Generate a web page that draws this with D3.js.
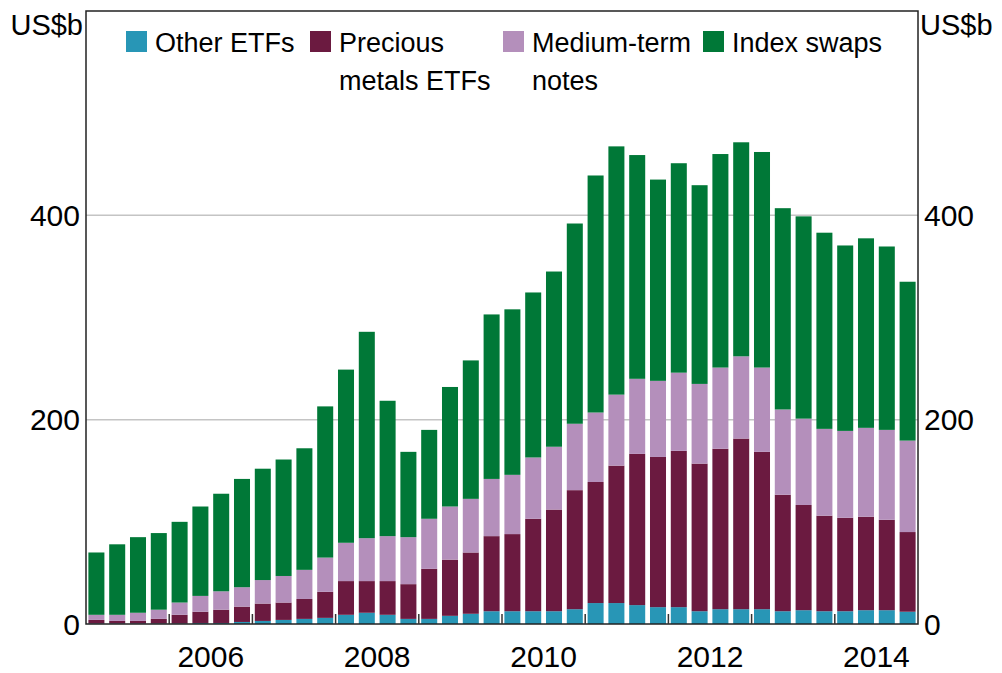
<!DOCTYPE html>
<html>
<head>
<meta charset="utf-8">
<script src="https://cdn.jsdelivr.net/npm/d3@7"></script>
<style>
  html, body { margin: 0; padding: 0; background: #fff; }
  svg { display: block; font-family: "Liberation Sans", Arial, sans-serif; }
</style>
</head>
<body>
<script>
// quarterly categories, 2005 Q1 to 2014 Q4
const years = [2005, 2006, 2007, 2008, 2009, 2010, 2011, 2012, 2013, 2014];
const quarters = years.flatMap(y => ['Q1', 'Q2', 'Q3', 'Q4'].map(q => `${y}-${q}`));

// US$b
const otherEtfs = [0.5, 0.5, 0.5, 0.5, 0.5, 1, 1, 2, 3, 4,
  5, 6, 9, 11, 9, 5, 5, 8, 10, 12.5,
  12.5, 12.5, 12.5, 14.5, 20.5, 20.5, 18.5, 16.5, 16.5, 12.5,
  14.5, 14.5, 14.5, 12.5, 13.5, 12.5, 12.5, 13.5, 13.5, 12];
const preciousEtfs = [3.5, 2.5, 2.5, 4.5, 8.5, 11, 13, 15, 17, 17,
  19.5, 25.5, 33, 31, 33, 34, 49, 55, 60, 73.5,
  75.5, 90.5, 99.5, 116.5, 118.5, 134.5, 148, 147, 153, 144.5,
  157, 167, 154, 114, 103, 93.5, 91.5, 91.5, 88.5, 78];
const mediumNotes = [5, 6, 8, 9, 12, 15.5, 18, 19, 23, 26,
  28.5, 33.5, 37.5, 42, 44, 46, 49, 52, 52.5, 56,
  58, 60, 61.5, 65, 68, 69.5, 73.5, 74.5, 76.5, 78,
  79.5, 80.5, 82.5, 83.5, 84.5, 85, 85, 87, 88, 89.5];
const indexSwaps = [61, 69, 74, 75, 79, 87.5, 95.5, 106, 109, 114,
  119, 148, 169.5, 202, 132.5, 83.5, 87, 117, 135.5, 161,
  162, 161.5, 171.5, 196, 232, 243, 219, 197, 205, 194.5,
  209, 209.5, 211, 197, 198, 192, 181.5, 185.5, 179.5, 155.5];

const seriesKeys = ['other', 'precious', 'medium', 'swaps'];
const seriesLabels = [['Other ETFs'], ['Precious', 'metals ETFs'], ['Medium-term', 'notes'], ['Index swaps']];
const seriesColors = ['#2896b6', '#6b1a40', '#b48fbb', '#007837'];

const yTicks = [0, 200, 400];
const yearTicks = [2006, 2007, 2008, 2009, 2010, 2011, 2012, 2013, 2014];
const yearLabels = [2006, 2008, 2010, 2012, 2014];

const width = 1002, height = 673;
const plot = { left: 86, right: 918, top: 11, bottom: 624 };

const rows = quarters.map((q, i) => ({
  q,
  other: otherEtfs[i],
  precious: preciousEtfs[i],
  medium: mediumNotes[i],
  swaps: indexSwaps[i]
}));

const stacked = d3.stack().keys(seriesKeys)(rows);

const x = d3.scaleBand()
  .domain(quarters)
  .range([plot.left, plot.right])
  .paddingInner(0.23)
  .paddingOuter(0.115);

const y = d3.scaleLinear()
  .domain([0, 600])
  .range([plot.bottom, plot.top]);

const svg = d3.select('body')
  .append('svg')
  .attr('width', width)
  .attr('height', height);

svg.append('rect')
  .attr('width', width)
  .attr('height', height)
  .attr('fill', '#fff');

// gridlines
svg.append('g')
  .selectAll('line')
  .data(yTicks.filter(d => d > 0))
  .enter()
  .append('line')
  .attr('x1', plot.left)
  .attr('x2', plot.right)
  .attr('y1', d => y(d))
  .attr('y2', d => y(d))
  .attr('stroke', '#c4c4c4')
  .attr('stroke-width', 1.5);

// bars
svg.append('g')
  .selectAll('g')
  .data(stacked)
  .enter()
  .append('g')
  .attr('fill', (d, i) => seriesColors[i])
  .selectAll('rect')
  .data(d => d)
  .enter()
  .append('rect')
  .attr('x', d => x(d.data.q))
  .attr('width', x.bandwidth())
  .attr('y', d => y(d[1]))
  .attr('height', d => y(d[0]) - y(d[1]));

// frame
svg.append('rect')
  .attr('x', plot.left)
  .attr('y', plot.top)
  .attr('width', plot.right - plot.left)
  .attr('height', plot.bottom - plot.top)
  .attr('fill', 'none')
  .attr('stroke', '#222')
  .attr('stroke-width', 1.5);

// year ticks, at the start of each year
const gap = x.step() - x.bandwidth();
svg.append('g')
  .selectAll('line')
  .data(yearTicks)
  .enter()
  .append('line')
  .attr('x1', d => x(`${d}-Q1`) - gap / 2)
  .attr('x2', d => x(`${d}-Q1`) - gap / 2)
  .attr('y1', plot.bottom)
  .attr('y2', plot.bottom - 10)
  .attr('stroke', '#333')
  .attr('stroke-width', 1.5);

// year labels, centred on the year
svg.append('g')
  .selectAll('text')
  .data(yearLabels)
  .enter()
  .append('text')
  .attr('x', d => (x(`${d}-Q1`) + x(`${d}-Q4`) + x.bandwidth()) / 2)
  .attr('y', 667)
  .attr('text-anchor', 'middle')
  .attr('font-size', 30)
  .text(d => d);

// y labels, both sides
svg.append('g')
  .selectAll('text')
  .data(yTicks)
  .enter()
  .append('text')
  .attr('x', plot.left - 6)
  .attr('y', d => y(d))
  .attr('dy', '0.35em')
  .attr('text-anchor', 'end')
  .attr('font-size', 30)
  .text(d => d);

svg.append('g')
  .selectAll('text')
  .data(yTicks)
  .enter()
  .append('text')
  .attr('x', plot.right + 6)
  .attr('y', d => y(d))
  .attr('dy', '0.35em')
  .attr('text-anchor', 'start')
  .attr('font-size', 30)
  .text(d => d);

svg.append('text')
  .attr('x', plot.left - 3)
  .attr('y', 35)
  .attr('text-anchor', 'end')
  .attr('font-size', 29)
  .text('US$b');

svg.append('text')
  .attr('x', plot.right + 2)
  .attr('y', 35)
  .attr('font-size', 29)
  .text('US$b');

// legend
const legendX = [126, 310, 503, 703];
const legend = svg.append('g')
  .selectAll('g')
  .data(seriesLabels)
  .enter()
  .append('g')
  .attr('transform', (d, i) => `translate(${legendX[i]},0)`);

legend.append('rect')
  .attr('x', 0)
  .attr('y', 31)
  .attr('width', 21)
  .attr('height', 21)
  .attr('fill', (d, i) => seriesColors[i]);

legend.selectAll('text')
  .data(d => d)
  .enter()
  .append('text')
  .attr('x', 29)
  .attr('y', (d, i) => 52 + i * 38)
  .attr('font-size', 27)
  .text(d => d);
</script>
</body>
</html>
